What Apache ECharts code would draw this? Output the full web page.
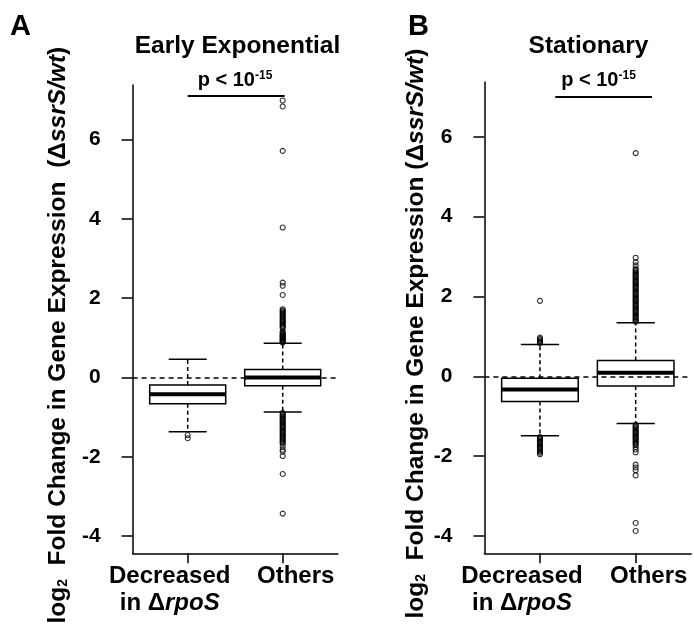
<!DOCTYPE html>
<html>
<head>
<meta charset="utf-8">
<script src="https://cdn.jsdelivr.net/npm/echarts@6/dist/echarts.min.js"></script>
<style>
html,body{margin:0;padding:0;background:#fff;}
#chart{width:694px;height:631px;}
</style>
</head>
<body>
<div id="chart"></div>
<script>
// ---------- data ----------
const categories = ['Decreased in ΔrpoS', 'Others'];
const catPositions = [1, 2];
const yTicks = [-4, -2, 0, 2, 4, 6];
const panelTitles = ['Early Exponential', 'Stationary'];
const panelLetters = ['A', 'B'];

// box stats: [lower whisker, Q1, median, Q3, upper whisker]
const boxEarlyDecreased = [-1.37, -0.66, -0.42, -0.19, 0.46];
const boxEarlyOthers    = [-0.87, -0.21, 0.00, 0.20, 0.86];
const boxStatDecreased  = [-1.49, -0.63, -0.33, -0.05, 0.80];
const boxStatOthers     = [-1.18, -0.24, 0.09, 0.40, 1.34];

// outliers
const outEarlyDecreased = [-1.45, -1.53];
const outEarlyOthers = [
  0.88, 0.90, 0.92, 0.94, 0.96, 0.98, 1.00, 1.02, 1.04, 1.06, 1.08, 1.10, 1.13, 1.16,
  1.24, 1.27, 1.30, 1.33, 1.36, 1.39, 1.42, 1.45, 1.48, 1.51, 1.54, 1.57, 1.60, 1.63, 1.66, 1.69, 1.72,
  2.08, 2.31, 2.39, 3.78, 5.71, 6.83, 6.98,
  -0.89, -0.92, -0.95, -0.98, -1.01, -1.04, -1.07, -1.10, -1.13, -1.16, -1.19, -1.22, -1.25, -1.28,
  -1.31, -1.34, -1.37, -1.40, -1.43, -1.46, -1.49, -1.52, -1.55, -1.58, -1.61, -1.64, -1.67,
  -1.74, -1.82, -1.87, -1.98, -2.43, -3.43
];
const outStatDecreased = [
  0.83, 0.86, 0.88, 0.91, 0.94, 0.97, 1.89,
  -1.52, -1.55, -1.58, -1.61, -1.64, -1.67, -1.70, -1.73, -1.76, -1.79, -1.82, -1.85, -1.88, -1.91, -1.95
];
const outStatOthers = [
  1.37, 1.40, 1.43, 1.46, 1.49, 1.52, 1.55, 1.58, 1.61, 1.64, 1.67, 1.70, 1.73, 1.76, 1.79, 1.82,
  1.85, 1.88, 1.91, 1.94, 1.97, 2.00, 2.03, 2.06, 2.09, 2.12, 2.15, 2.18, 2.21, 2.24, 2.27, 2.30,
  2.33, 2.36, 2.39, 2.42, 2.45, 2.48, 2.51, 2.54, 2.57, 2.60, 2.63, 2.66, 2.70,
  2.78, 2.86, 2.97, 5.59,
  -1.21, -1.24, -1.27, -1.30, -1.33, -1.36, -1.39, -1.42, -1.45, -1.48, -1.51, -1.54, -1.57, -1.60,
  -1.63, -1.66, -1.69, -1.72, -1.77, -1.83, -1.90, -2.21, -2.28, -2.35, -2.48, -3.67, -3.87
];

// significance bars: [x start, x end, y]
const sigEarly = [1.0, 2.02, 7.09];
const sigStat  = [1.16, 2.17, 6.99];
const pLabel = ['p < 10', '-15'];

// ---------- chart ----------
const FONT = 'Liberation Sans, Arial, sans-serif';
const chart = echarts.init(document.getElementById('chart'), null, {renderer: 'canvas'});

function renderBox(params, api) {
  const x = api.value(0);
  const lo = api.value(1), q1 = api.value(2), med = api.value(3), q3 = api.value(4), hi = api.value(5);
  const bw = api.size([0.8, 0])[0];
  const c = api.coord([x, med]);
  const cx = c[0];
  const yLo = api.coord([x, lo])[1], yQ1 = api.coord([x, q1])[1], yMed = c[1];
  const yQ3 = api.coord([x, q3])[1], yHi = api.coord([x, hi])[1];
  const solid = {stroke: '#000', lineWidth: 1.5, fill: null};
  const dashed = {stroke: '#000', lineWidth: 1.5, lineDash: [4, 3], fill: null};
  return {
    type: 'group',
    children: [
      {type: 'line', shape: {x1: cx, y1: yQ3, x2: cx, y2: yHi}, style: dashed},
      {type: 'line', shape: {x1: cx, y1: yQ1, x2: cx, y2: yLo}, style: dashed},
      {type: 'line', shape: {x1: cx - bw / 4, y1: yHi, x2: cx + bw / 4, y2: yHi}, style: solid},
      {type: 'line', shape: {x1: cx - bw / 4, y1: yLo, x2: cx + bw / 4, y2: yLo}, style: solid},
      {type: 'rect', shape: {x: cx - bw / 2, y: yQ3, width: bw, height: yQ1 - yQ3}, style: solid},
      {type: 'line', shape: {x1: cx - bw / 2, y1: yMed, x2: cx + bw / 2, y2: yMed}, style: {stroke: '#000', lineWidth: 4}}
    ]
  };
}

function xLabelFormatter(v) {
  if (Math.abs(v - catPositions[0]) < 1e-6) {
    const parts = categories[0].split(' in Δ');
    return '{dl|' + parts[0] + '}\n{d|in Δ}{dil|' + parts[1] + '}';
  }
  if (Math.abs(v - catPositions[1]) < 1e-6) return '{ol|' + categories[1] + '}';
  return '';
}

const XF = 24;
const xRich = {
  dl: {fontSize: XF, fontWeight: 'bold', fontFamily: FONT, color: '#000', lineHeight: 27, padding: [0, 36, 0, 0]},
  d: {fontSize: XF, fontWeight: 'bold', fontFamily: FONT, color: '#000', lineHeight: 27},
  dil: {fontSize: XF, fontWeight: 'bold', fontStyle: 'italic', fontFamily: FONT, color: '#000', lineHeight: 27, padding: [0, 36, 0, 0]},
  ol: {fontSize: XF, fontWeight: 'bold', fontFamily: FONT, color: '#000', lineHeight: 27, padding: [0, 0, 0, 26]}
};

function yName(doubleSpace) {
  const sp = doubleSpace ? '  ' : ' ';
  return '{t|log}{sub|2}{t|  Fold Change in Gene Expression' + sp + '(Δ}{i|ssrS/wt}{t|)}';
}
const YF = 24.5;
const yRich = {
  t: {fontSize: YF, fontWeight: 'bold', fontFamily: FONT, color: '#000'},
  sub: {fontSize: 14, fontWeight: 'bold', fontFamily: FONT, color: '#000', verticalAlign: 'bottom'},
  i: {fontSize: YF, fontWeight: 'bold', fontStyle: 'italic', fontFamily: FONT, color: '#000'}
};

// main x axis (line, ticks, first label) and an extra label-only axis for the second category
function xAxisCfg(gi, labelValues, drawLine) {
  return {
    type: 'value', gridIndex: gi, min: 0.42, max: 2.58, position: 'bottom',
    axisLine: {show: drawLine, onZero: false, lineStyle: {color: '#000', width: 1.5}},
    axisTick: {show: drawLine, customValues: catPositions, length: 10, lineStyle: {color: '#000', width: 1.5}},
    axisLabel: {show: true, customValues: labelValues, formatter: xLabelFormatter, margin: 10, rich: xRich,
                hideOverlap: false, showMinLabel: true, showMaxLabel: true},
    splitLine: {show: false}
  };
}
function yAxisCfg(gi, gap, doubleSpace) {
  return {
    type: 'value', gridIndex: gi, min: -4.43, max: 7.37,
    axisLine: {show: true, onZero: false, lineStyle: {color: '#000', width: 1.5}},
    axisTick: {show: true, customValues: yTicks, length: 11, lineStyle: {color: '#000', width: 1.5}},
    axisLabel: {show: true, customValues: yTicks, margin: 32, fontSize: 21, fontWeight: 'bold', fontFamily: FONT, color: '#000',
                showMinLabel: true, showMaxLabel: true},
    splitLine: {show: false},
    name: yName(doubleSpace), nameLocation: 'middle', nameRotate: 90, nameGap: gap,
    nameTextStyle: {rich: yRich, padding: [0, 32, 0, 0]}
  };
}

function boxSeries(gi, boxes, sig) {
  return {
    type: 'custom', xAxisIndex: gi, yAxisIndex: gi,
    renderItem: renderBox,
    encode: {x: 0, y: [1, 2, 3, 4, 5]},
    data: boxes.map((b, i) => [catPositions[i]].concat(b)),
    silent: true,
    markLine: {
      silent: true, symbol: 'none', animation: false,
      label: {show: false},
      data: [
        {yAxis: 0, lineStyle: {type: [5, 4], color: '#000', width: 1.5}},
        [{coord: [sig[0], sig[2]], lineStyle: {type: 'solid', color: '#000', width: 2}}, {coord: [sig[1], sig[2]]}]
      ]
    }
  };
}
function outlierSeries(gi, xi, vals) {
  return {
    type: 'scatter', xAxisIndex: gi, yAxisIndex: gi,
    symbol: 'circle', symbolSize: 5,
    itemStyle: {color: 'rgba(255,255,255,0)', borderColor: '#000', borderWidth: 1.1},
    data: vals.map(v => [catPositions[xi], v]),
    silent: true
  };
}

function pTitle(cx) {
  return {
    text: '{p|' + pLabel[0] + '}{s|' + pLabel[1] + '}', left: cx, top: 70, textAlign: 'center', padding: 0,
    textStyle: {rich: {
      p: {fontSize: 20, fontWeight: 'bold', fontFamily: FONT, color: '#000'},
      s: {fontSize: 12, fontWeight: 'bold', fontFamily: FONT, color: '#000', verticalAlign: 'top'}
    }}
  };
}
const titleStyle = {fontSize: 24.5, fontWeight: 'bold', fontFamily: FONT, color: '#000'};
const letterStyle = {fontSize: 29, fontWeight: 'bold', fontFamily: FONT, color: '#000'};

chart.setOption({
  animation: false,
  backgroundColor: '#fff',
  title: [
    {text: panelLetters[0], left: 10, top: 12, padding: 0, textStyle: letterStyle},
    {text: panelLetters[1], left: 408, top: 12, padding: 0, textStyle: letterStyle},
    {text: panelTitles[0], left: 237.5, top: 34, textAlign: 'center', padding: 0, textStyle: titleStyle},
    {text: panelTitles[1], left: 588.5, top: 34, textAlign: 'center', padding: 0, textStyle: titleStyle},
    pTitle(235),
    pTitle(598.5)
  ],
  grid: [
    {left: 132.6, top: 85, width: 205.2, height: 468.3},
    {left: 484.4, top: 82, width: 206.8, height: 471.3}
  ],
  xAxis: [
    xAxisCfg(0, [catPositions[0]], true),
    xAxisCfg(1, [catPositions[0]], true),
    xAxisCfg(0, [catPositions[1]], false),
    xAxisCfg(1, [catPositions[1]], false)
  ],
  yAxis: [yAxisCfg(0, 62, true), yAxisCfg(1, 56, false)],
  series: [
    boxSeries(0, [boxEarlyDecreased, boxEarlyOthers], sigEarly),
    outlierSeries(0, 0, outEarlyDecreased),
    outlierSeries(0, 1, outEarlyOthers),
    boxSeries(1, [boxStatDecreased, boxStatOthers], sigStat),
    outlierSeries(1, 0, outStatDecreased),
    outlierSeries(1, 1, outStatOthers)
  ]
});
</script>
</body>
</html>
